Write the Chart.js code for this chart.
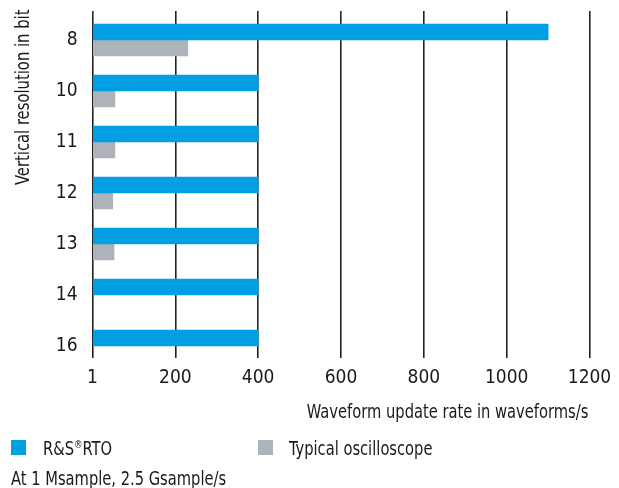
<!DOCTYPE html>
<html><head><meta charset="utf-8">
<script src="https://cdn.jsdelivr.net/npm/chart.js@4/dist/chart.umd.min.js"></script>
<style>
html,body{margin:0;padding:0;background:#fff;}
#wrap{position:relative;width:619px;height:488px;overflow:hidden;font-family:"Liberation Sans Narrow","Arial Narrow","DejaVu Sans Condensed",sans-serif;color:#1a1a1a;}
canvas{position:absolute;left:0;top:0;}
.t{position:absolute;font-size:19px;line-height:19px;white-space:nowrap;transform-origin:0 0;transform:scaleX(0.86);}
.sw{position:absolute;width:15px;height:15px;}
sup{font-size:11px;line-height:0;vertical-align:baseline;position:relative;top:-7px;}
#xt{right:31px;left:auto;top:402px;transform-origin:100% 0;}
#yt{left:13px;top:185px;transform:rotate(-90deg) scaleX(0.865);}
</style></head><body>
<div id="wrap">
<canvas id="c" width="619" height="488"></canvas>
<div class="t" id="xt"></div>
<div class="t" id="yt"></div>
<div class="sw" style="left:11px;top:440px;background:#009fe3"></div>
<div class="t" style="left:43px;top:439px">R&amp;S<sup>®</sup>RTO</div>
<div class="sw" style="left:258px;top:440px;background:#adb3b9"></div>
<div class="t" style="left:289px;top:439px">Typical oscilloscope</div>
<div class="t" style="left:11px;top:469px">At 1 Msample, 2.5 Gsample/s</div>
</div>
<script>
const categories = ['8', '10', '11', '12', '13', '14', '16'];
const rtoRates = [1100, 400, 400, 400, 400, 400, 400];
const typicalRates = [230, 54, 54, 49, 52, null, null];
const xTickLabels = ['1', '200', '400', '600', '800', '1000', '1200'];
const seriesNames = ['R&S®RTO', 'Typical oscilloscope'];
const xTitle = 'Waveform update rate in waveforms/s';
const yTitle = 'Vertical resolution in bit';

document.getElementById('xt').textContent = xTitle;
document.getElementById('yt').textContent = yTitle;

const FONT = '"Liberation Sans Narrow","Arial Narrow","DejaVu Sans Condensed",sans-serif';
const BLUE = '#009fe3', GREY = '#adb3b9', INK = '#1a1a1a';

// category i is placed at -i so the first category sits at the top
const toPoints = arr => arr.map((v, i) => ({ x: v, y: -i }));

new Chart(document.getElementById('c'), {
  type: 'bar',
  data: {
    datasets: [
      { label: seriesNames[0], data: toPoints(rtoRates), backgroundColor: BLUE, barThickness: 16 },
      { label: seriesNames[1], data: toPoints(typicalRates), backgroundColor: GREY, barThickness: 16 }
    ]
  },
  options: {
    indexAxis: 'y',
    responsive: false,
    animation: false,
    layout: { padding: { top: 11, right: 29.5, bottom: 100, left: 0 } },
    plugins: { legend: { display: false }, tooltip: { enabled: false } },
    scales: {
      x: {
        type: 'linear',
        position: 'bottom',
        min: 0, max: 1200,
        offset: false,
        afterFit: s => { s.height = 30; s.paddingLeft = 0; s.paddingRight = 0; },
        border: { display: false },
        grid: { color: '#222', lineWidth: 1.6, drawTicks: false, offset: false },
        ticks: {
          stepSize: 200,
          padding: 9,
          color: INK,
          font: { family: FONT, size: 19 },
          callback: (v, i) => xTickLabels[i]
        }
      },
      y: {
        type: 'linear',
        position: 'left',
        offset: false,
        min: -(categories.length - 1) - 0.235, max: 0.5686,
        afterFit: s => { s.width = 92.5; s.paddingTop = 0; s.paddingBottom = 0; },
        border: { display: false },
        grid: { display: false, drawTicks: false, offset: false },
        ticks: {
          stepSize: 1,
          includeBounds: false,
          autoSkip: false,
          padding: 15,
          color: INK,
          font: { family: FONT, size: 19 },
          callback: v => categories[-v] ?? ''
        }
      }
    }
  }
});
</script>
</body></html>
